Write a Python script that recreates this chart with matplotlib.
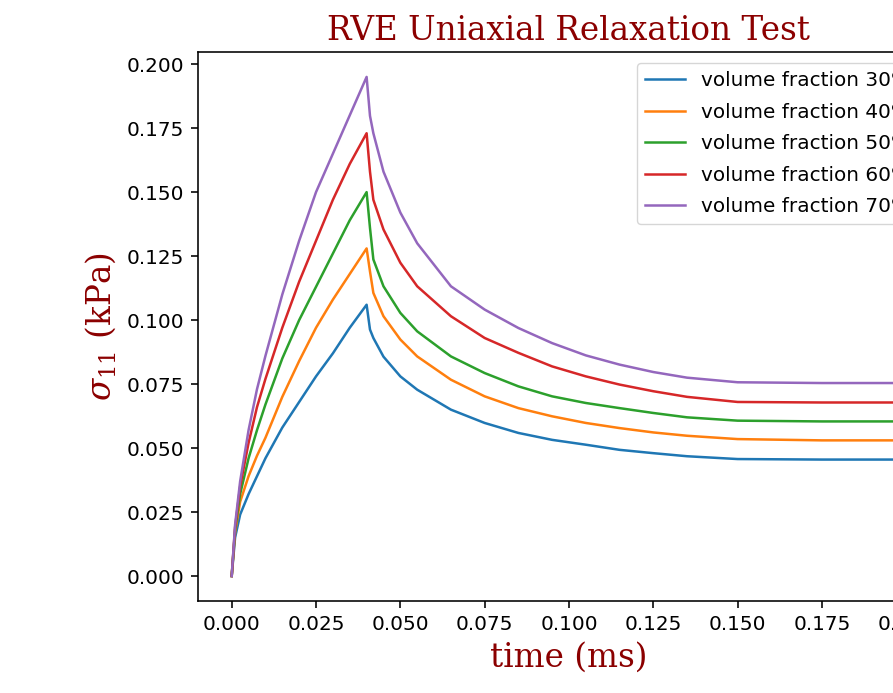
import matplotlib
matplotlib.use("Agg")
import matplotlib.pyplot as plt

# time points (ms)
time = [0, 0.001, 0.0025, 0.005, 0.0075, 0.01, 0.015, 0.02, 0.025, 0.03, 0.035, 0.04,
        0.041, 0.042, 0.045, 0.05, 0.055, 0.065, 0.075, 0.085, 0.095,
        0.105, 0.115, 0.125, 0.135, 0.15, 0.175, 0.2]

# sigma_11 (kPa) for each volume fraction
vf30 = [0, 0.015, 0.024, 0.032, 0.039, 0.046, 0.058, 0.068, 0.078, 0.087, 0.097, 0.106,
        0.0963, 0.093, 0.0857, 0.078, 0.0728, 0.065, 0.0598, 0.0559, 0.0532,
        0.0513, 0.0493, 0.048, 0.0468, 0.0457, 0.0455, 0.0455]
vf40 = [0, 0.017, 0.029, 0.039, 0.047, 0.054, 0.070, 0.084, 0.097, 0.108, 0.118, 0.128,
        0.119, 0.1106, 0.1015, 0.0924, 0.0858, 0.0767, 0.0702, 0.0656, 0.0624,
        0.0598, 0.0578, 0.0561, 0.0548, 0.0535, 0.053, 0.053]
vf50 = [0, 0.018, 0.032, 0.046, 0.057, 0.067, 0.085, 0.100, 0.113, 0.126, 0.139, 0.150,
        0.136, 0.1237, 0.1132, 0.1028, 0.0956, 0.0858, 0.0793, 0.0741, 0.0702,
        0.0676, 0.0656, 0.0637, 0.062, 0.0607, 0.0604, 0.0604]
vf60 = [0, 0.019, 0.035, 0.052, 0.066, 0.077, 0.097, 0.115, 0.131, 0.147, 0.161, 0.173,
        0.158, 0.147, 0.1354, 0.1224, 0.1132, 0.1015, 0.093, 0.0872, 0.0819,
        0.078, 0.0748, 0.0722, 0.070, 0.068, 0.0678, 0.0678]
vf70 = [0, 0.020, 0.037, 0.057, 0.073, 0.086, 0.110, 0.131, 0.150, 0.165, 0.180, 0.195,
        0.1798, 0.173, 0.158, 0.142, 0.130, 0.1132, 0.1041, 0.0969, 0.091,
        0.0862, 0.0826, 0.0797, 0.0775, 0.0757, 0.0754, 0.0754]

labels = ["volume fraction 30%", "volume fraction 40%", "volume fraction 50%",
          "volume fraction 60%", "volume fraction 70%"]

s = 1.44  # everything drawn a bit bigger than default
plt.rcParams.update({
    "font.size": 10 * s,
    "lines.linewidth": 1.8,
    "axes.linewidth": 0.8 * s,
    "xtick.major.size": 3.5 * s, "ytick.major.size": 3.5 * s,
    "xtick.major.width": 0.8 * s, "ytick.major.width": 0.8 * s,
    "xtick.major.pad": 3.5 * s, "ytick.major.pad": 3.5 * s,
    "mathtext.fontset": "dejavuserif",
})

fig = plt.figure(figsize=(8.93, 6.93), dpi=100)
ax = fig.add_axes([0.2217, 0.1328, 0.8309, 0.7922])

for vals, lab in zip([vf30, vf40, vf50, vf60, vf70], labels):
    ax.plot(time, vals, label=lab)

font_title = {"family": "serif", "color": "darkred", "size": 23.5}
ax.set_title("RVE Uniaxial Relaxation Test", fontdict=font_title, pad=6 * s)
ax.set_xlabel("time (ms)", fontdict=font_title, labelpad=4 * s)
ax.set_ylabel(r"$\sigma_{11}$ (kPa)", fontdict=font_title, labelpad=4 * s)
ax.legend(loc="upper left", bbox_to_anchor=(0.5916, 0.98), borderaxespad=0,
          fontsize=14.4, labelspacing=0.63)

fig.savefig("out.png", dpi=100)
